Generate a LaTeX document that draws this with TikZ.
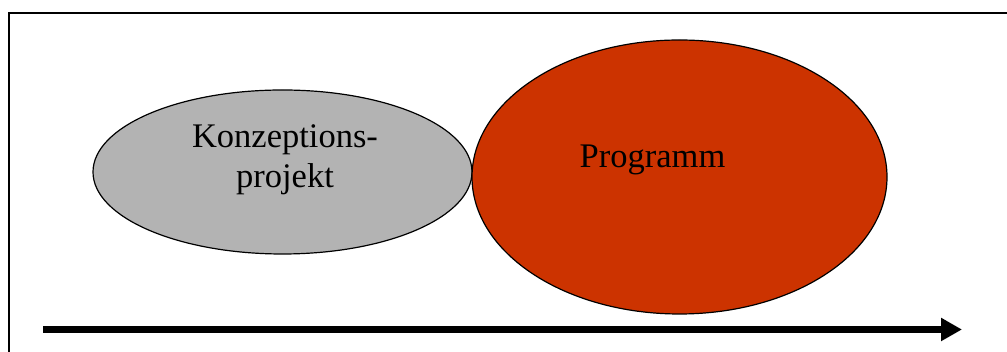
\documentclass[tikz,border=0pt]{standalone}
\usepackage{fontspec}
\setmainfont{Liberation Serif}
\usetikzlibrary{shapes.geometric,arrows.meta}
\definecolor{phasegray}{RGB}{179,179,179}
\definecolor{programred}{RGB}{204,51,0}
\begin{document}
\begin{tikzpicture}[x=1pt,y=1pt,
  phase/.style={ellipse,draw=black,line width=1.2pt,inner sep=0pt},
  caption/.style={font=\fontsize{34.5}{40}\selectfont,align=center,text=black,inner sep=0pt},
  frameline/.style={line width=2pt,draw=black},
  timeline/.style={line width=7pt,line cap=butt,-{Triangle[length=21pt,width=22pt]}}]
  \useasboundingbox (0,0) rectangle (1007,352);
  % outer frame (continues past the right and lower edges)
  \coordinate (fbl) at (9,-2);
  \coordinate (ftl) at (9,338.5);
  \coordinate (ftr) at (1009,338.5);
  \draw[frameline] (fbl) -- (ftl) -- (ftr);
  % project phases
  \node[phase,fill=phasegray,minimum width=379pt,minimum height=164pt] (concept) at (282.5,180) {};
  \node[phase,fill=programred,minimum width=415pt,minimum height=274pt] (program) at (679.5,175) {};
  \node[caption] (concepttext) at (285,192) {Konzeptions-\\projekt};
  \node[caption] (programtext) at (652.5,191.6) {Programm};
  % time axis
  \coordinate (tstart) at (43,22.5);
  \coordinate (tend) at (962,22.5);
  \draw[timeline] (tstart) -- (tend);
\end{tikzpicture}
\end{document}
